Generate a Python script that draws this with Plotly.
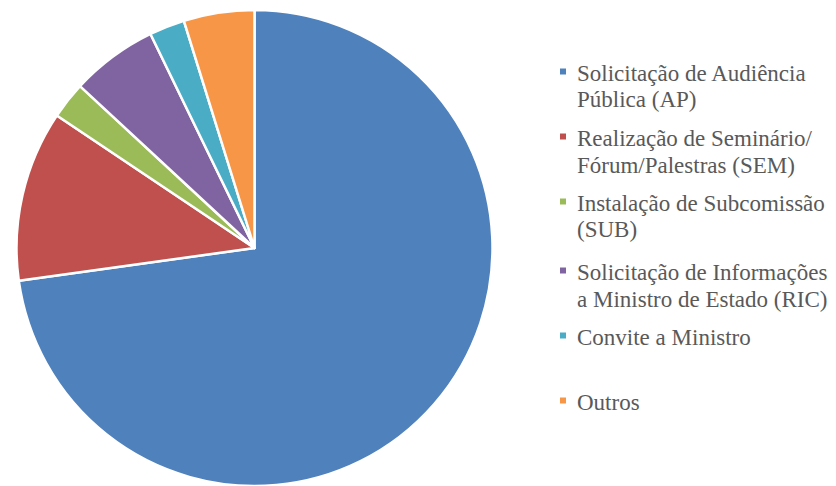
import plotly.graph_objects as go

# page has an 8px body margin; figure drawn within the remaining area
OFF = 8
W, H = 836 - OFF, 486 - OFF

labels = [
    "Solicitação de Audiência<br>Pública (AP)",
    "Realização de Seminário/<br>Fórum/Palestras (SEM)",
    "Instalação de Subcomissão<br>(SUB)",
    "Solicitação de Informações<br>a Ministro de Estado (RIC)",
    "Convite a Ministro",
    "Outros",
]
values = [72.8, 11.6, 2.5, 5.9, 2.4, 4.8]
colors = ["#4F81BD", "#C0504D", "#9BBB59", "#8064A2", "#4BACC6", "#F79646"]

# legend layout (pixel positions in the page)
legend_text_x = 575
legend_first_line_y = [73, 138, 203, 272, 337, 402]
line_h = 27

def px_x(x):
    return (x - OFF) / W

def px_y(y):
    return 1 - (y - OFF) / H

pie_cx, pie_top, pie_r = 254.5, 10, 238

fig = go.Figure(go.Pie(
    labels=[l.replace("<br>", " ") for l in labels],
    values=values,
    marker=dict(colors=colors, line=dict(color="white", width=2.5)),
    sort=False,
    direction="clockwise",
    rotation=0,
    textinfo="none",
    hoverinfo="label+percent",
    showlegend=False,
    domain=dict(x=[px_x(pie_cx - pie_r), px_x(pie_cx + pie_r)],
                y=[max(0, px_y(pie_top + 2 * pie_r)), px_y(pie_top)]),
))

for lab, col, y0 in zip(labels, colors, legend_first_line_y):
    for k, line in enumerate(lab.split("<br>")):
        fig.add_annotation(
            x=px_x(legend_text_x), y=px_y(y0 + k * line_h), xref="paper", yref="paper",
            xanchor="left", yanchor="middle", align="left", showarrow=False,
            text=line,
        )
    fig.add_shape(
        type="rect", xref="paper", yref="paper",
        x0=px_x(560), x1=px_x(566), y0=px_y(y0 + 1.5), y1=px_y(y0 - 4.5),
        fillcolor=col, line=dict(width=0),
    )

fig.update_layout(
    width=W, height=H,
    margin=dict(l=0, r=0, t=0, b=0),
    font=dict(family="Liberation Serif", size=23, color="#595959"),
    paper_bgcolor="white", plot_bgcolor="white",
)

fig.write_html("out.html")
